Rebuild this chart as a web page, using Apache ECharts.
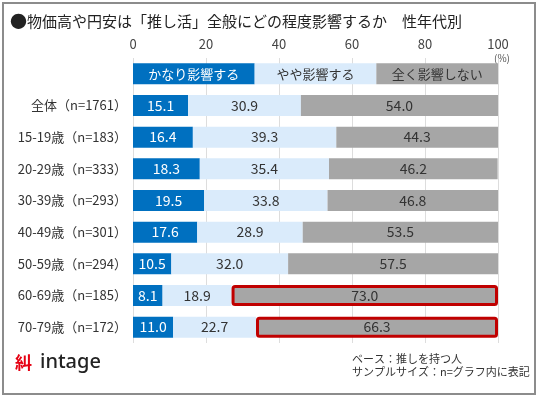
<!DOCTYPE html>
<html>
<head>
<meta charset="utf-8">
<script src="https://cdn.jsdelivr.net/npm/echarts@6/dist/echarts.min.js"></script>
<style>
  html, body { margin: 0; padding: 0; background: #fff; }
  #chart { width: 540px; height: 397px; }
</style>
</head>
<body>
<div id="chart"></div>
<script>
const seriesNames = ['かなり影響する', 'やや影響する', '全く影響しない'];
const categories = ['全体（n=1761）', '15-19歳（n=183）', '20-29歳（n=333）', '30-39歳（n=293）',
    '40-49歳（n=301）', '50-59歳（n=294）', '60-69歳（n=185）', '70-79歳（n=172）'];
const strong = [15.1, 16.4, 18.3, 19.5, 17.6, 10.5, 8.1, 11.0];
const some = [30.9, 39.3, 35.4, 33.8, 28.9, 32.0, 18.9, 22.7];
const none = [54.0, 44.3, 46.2, 46.8, 53.5, 57.5, 73.0, 66.3];
const highlighted = ['60-69歳（n=185）', '70-79歳（n=172）'];
const xTicks = [0, 20, 40, 60, 80, 100];

const colors = ['#0070C0', '#DAEBFB', '#A6A6A6'];
const labelColors = ['#fff', '#333', '#333'];
const font = '"Noto Sans CJK JP", sans-serif';

// first row is the legend strip, three equal segments
const yCats = [''].concat(categories);

const makeSeries = (idx, values) => {
    const data = [{ value: 100 / 3 }].concat(values.map((v, i) => {
        const item = { value: v };
        if (idx === 2 && highlighted.includes(categories[i])) {
            item.itemStyle = { borderColor: '#C00000', borderWidth: 3, borderRadius: 2 };
        }
        return item;
    }));
    return {
        name: seriesNames[idx],
        type: 'bar',
        stack: 'total',
        barWidth: 21,
        data: data,
        itemStyle: { color: colors[idx] },
        label: {
            show: true,
            position: 'inside',
            color: labelColors[idx],
            fontFamily: font,
            fontSize: 14,
            formatter: p => p.dataIndex === 0 ? '{leg|' + seriesNames[idx] + '}' : p.value.toFixed(1),
            rich: { leg: { fontSize: 13, color: labelColors[idx], fontFamily: font } }
        }
    };
};

const myChart = echarts.init(document.getElementById('chart'));
let option = {
    animation: false,
    textStyle: { fontFamily: font },
    grid: { left: 133, right: 42, top: 58, bottom: 54 },
    xAxis: {
        type: 'value',
        position: 'top',
        min: 0,
        max: 100,
        interval: 20,
        axisLine: { show: false },
        axisTick: { show: false },
        axisLabel: {
            margin: 7,
            color: '#444',
            fontSize: 13,
            fontFamily: font,
            formatter: v => xTicks.includes(v) ? String(v) : ''
        },
        splitLine: { lineStyle: { color: '#DDDDDD' } }
    },
    yAxis: {
        type: 'category',
        inverse: true,
        data: yCats,
        axisLine: { show: false },
        axisTick: { show: false },
        axisLabel: { margin: 6, color: '#333', fontSize: 13, fontFamily: font }
    },
    series: [makeSeries(0, strong), makeSeries(1, some), makeSeries(2, none)],
    graphic: [
        {
            type: 'rect',
            shape: { x: 3, y: 3, width: 532, height: 391 },
            style: { fill: 'none', stroke: '#8C8C8C', lineWidth: 2 }
        },
        {
            type: 'text', left: 10, top: 13,
            style: { text: '●', fill: '#222', font: '17px ' + font }
        },
        {
            type: 'text', left: 27, top: 14,
            style: { text: '物価高や円安は「推し活」全般にどの程度影響するか　性年代別', fill: '#222', font: '15px ' + font }
        },
        {
            type: 'text', left: 494, top: 53,
            style: { text: '(%)', fill: '#555', font: '10px ' + font }
        },
        {
            type: 'text', left: 15, top: 354,
            style: { text: '糾', fill: '#E60012', font: 'bold 17px ' + font }
        },
        {
            type: 'text', left: 40, top: 352,
            style: { text: 'intage', fill: '#222', font: '500 20px "Noto Sans", sans-serif' }
        },
        {
            type: 'text', left: 352, top: 352,
            style: { text: 'ベース：推しを持つ人\nサンプルサイズ：n=グラフ内に表記', fill: '#333', font: '11px ' + font, lineHeight: 13 }
        }
    ]
};
myChart.setOption(option);
window.addEventListener('resize', () => {
    myChart.resize();
});
</script>
</body>
</html>
